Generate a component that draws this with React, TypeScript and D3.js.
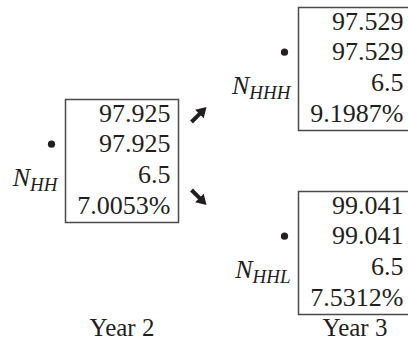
import React from "react";
import * as d3 from "d3";

// ---- data ----
const years = ["Year 2", "Year 3"];
const nodeNames = ["HH", "HHH", "HHL"];
const nodeYear = [0, 1, 1];
const nodeState = [0, 1, -1];
const bondValues = [97.925, 97.529, 99.041];
const cleanValues = [97.925, 97.529, 99.041];
const coupons = [6.5, 6.5, 6.5];
const rates = [7.0053, 9.1987, 7.5312];
const arrowDirs = [1, -1];

const W = 408;
const H = 341;
const BOX_W = 113;
const BOX_H = 123;
const ROW_H = 30.7;
const FONT = "'Liberation Serif', 'Times New Roman', serif";
const INK = "#231f20";

export default function App() {
  const x = d3.scalePoint<string>().domain(years).range([122, 355]);
  const y = d3.scaleLinear().domain([-1, 1]).range([253, 69]);
  const f3 = d3.format(".3f");
  const f1 = d3.format(".1f");
  const f4 = d3.format(".4f");

  const boxes = nodeNames.map((name, i) => {
    const cx = x(years[nodeYear[i]]) as number;
    const cy = y(nodeState[i]);
    return {
      name,
      left: cx - BOX_W / 2,
      top: cy - BOX_H / 2,
      rows: [f3(bondValues[i]), f3(cleanValues[i]), f1(coupons[i]), f4(rates[i]) + "%"],
    };
  });

  const root = boxes[0];
  const ax0 = root.left + BOX_W + 13;
  const arrowLen = 15;

  return (
    <svg width={W} height={H} style={{ position: "absolute", left: 0, top: 0, background: "#fff" }}>
      {boxes.map((b) => (
        <g key={b.name}>
          <rect x={b.left} y={b.top} width={BOX_W} height={BOX_H} fill="none" stroke="#4a4a4a" strokeWidth={1.5} />
          {b.rows.map((r, j) => (
            <text
              key={j}
              x={b.left + BOX_W - 8}
              y={b.top + 22 + j * ROW_H}
              textAnchor="end"
              fontFamily={FONT}
              fontSize={26}
              fill={INK}
            >
              {r}
            </text>
          ))}
          <circle cx={b.left - 14} cy={b.top + 22 + ROW_H - 8} r={3.6} fill={INK} />
          <text x={b.left - 8} y={b.top + 22 + 2 * ROW_H + 3} textAnchor="end" fontFamily={FONT} fontStyle="italic" fill={INK}>
            <tspan fontSize={26}>N</tspan>
            <tspan fontSize={19} dy={5}>{b.name}</tspan>
          </text>
        </g>
      ))}
      {arrowDirs.map((d, i) => {
        const cy = d > 0 ? root.top + 15 : root.top + BOX_H - 25;
        const x0 = ax0;
        const y0 = cy + (d * arrowLen) / 2;
        const x1 = ax0 + arrowLen;
        const y1 = cy - (d * arrowLen) / 2;
        const ang = Math.atan2(y1 - y0, x1 - x0);
        const hl = 10;
        const hw = 6;
        const bx = x1 - hl * Math.cos(ang);
        const by = y1 - hl * Math.sin(ang);
        const px = -Math.sin(ang);
        const py = Math.cos(ang);
        const head = [
          [x1, y1],
          [bx + hw * px, by + hw * py],
          [bx - hw * px, by - hw * py],
        ];
        return (
          <g key={i}>
            <line x1={x0} y1={y0} x2={bx + Math.cos(ang)} y2={by + Math.sin(ang)} stroke={INK} strokeWidth={4} />
            <polygon points={head.map((p) => p.join(",")).join(" ")} fill={INK} />
          </g>
        );
      })}
      {years.map((yr) => (
        <text key={yr} x={x(yr) as number} y={336} textAnchor="middle" fontFamily={FONT} fontSize={25} fill={INK}>
          {yr}
        </text>
      ))}
    </svg>
  );
}
